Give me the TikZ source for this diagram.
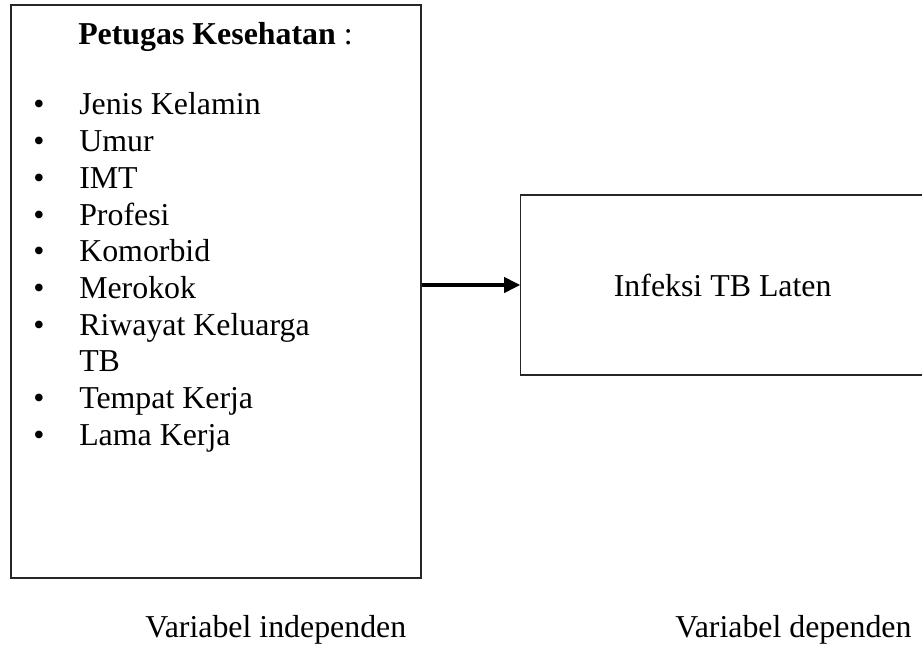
\documentclass[tikz,border=0pt]{standalone}
\usepackage{fontspec}
\setmainfont{Liberation Serif}
\usetikzlibrary{arrows.meta}

\tikzset{
    kotak/.style={draw=black!85, line width=0.8pt, rectangle, inner sep=0pt},
    teks/.style={anchor=base west, inner sep=0pt},
    panah/.style={-{Triangle[length=12pt, width=11.5pt]}, line width=2.3pt}
}

\begin{document}
\begin{tikzpicture}[x=0.75pt, y=-0.75pt, font=\fontsize{23.9}{27}\selectfont]
    \useasboundingbox (0,0) rectangle (922,645);
    % Kotak
    \node[kotak, minimum width=410*0.75pt, minimum height=573*0.75pt] (petugas) at (216,291.5) {};
    \node[kotak, minimum width=404*0.75pt, minimum height=180*0.75pt] (infeksi) at (722.7,285) {Infeksi TB Laten};
    % Judul
    \node[teks] (judul) at (78,45) {\textbf{Petugas Kesehatan} :};
    % Daftar
    \foreach \n/\txt in {0/Jenis Kelamin, 1/Umur, 2/IMT, 3/Profesi, 4/Komorbid,
        5/Merokok, 6/Riwayat Keluarga, 8/Tempat Kerja, 9/Lama Kerja} {
        \node[teks] (bullet\n) at (33,115+\n*36.7) {\textbullet};
        \node[teks] (item\n) at (79,115+\n*36.7) {\txt};
    }
    \node[teks] (item7) at (79,115+7*36.7) {TB};
    % Panah
    \draw[panah] (petugas.east |- infeksi.west) -- (infeksi.west);
    % Label
    \node[teks] (indep) at (145,637) {Variabel independen};
    \node[teks] (dep) at (675,637) {Variabel dependen};
\end{tikzpicture}
\end{document}
